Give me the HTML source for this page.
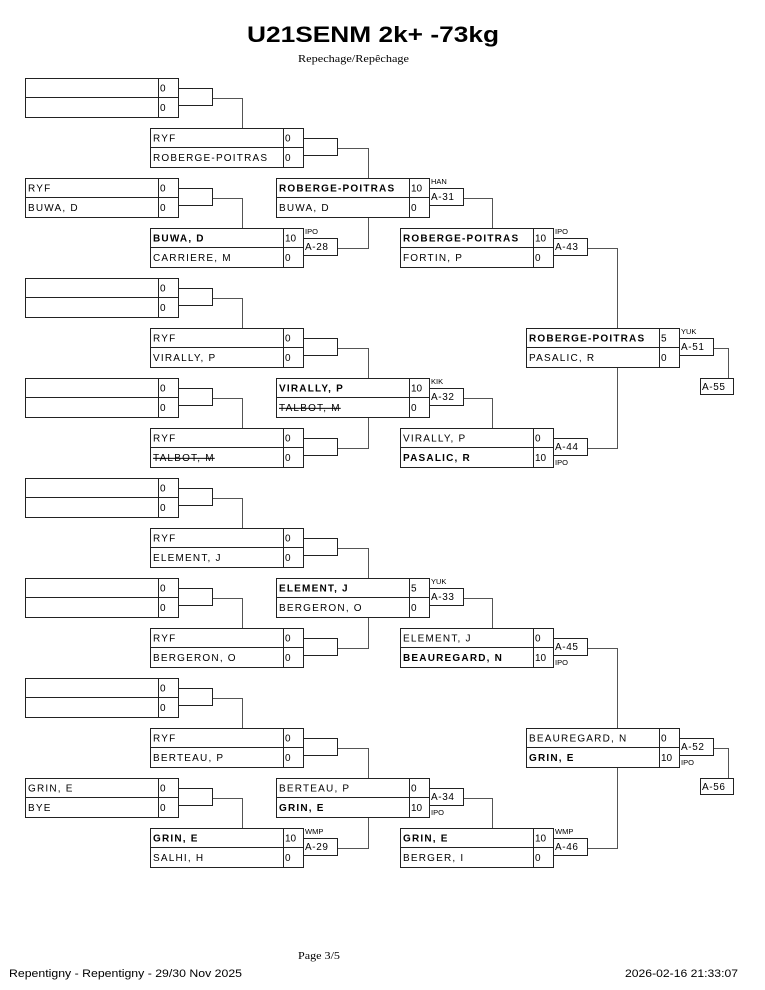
<!DOCTYPE html>
<html><head><meta charset="utf-8"><style>
html,body{margin:0;padding:0;background:#fff;}
svg{display:block;}
text{font-family:"Liberation Sans",Arial,sans-serif;fill:#000;}
.n{font-size:10px;letter-spacing:1.2px;}
.b{font-size:10px;letter-spacing:1.2px;font-weight:bold;}
.st{text-decoration:line-through;}
.sc{font-size:10px;}
.c{font-size:10px;letter-spacing:0.6px;}
.l{font-size:7.5px;}
.ln{fill:none;stroke:#555;stroke-width:1;}
</style></head><body>
<svg width="765" height="990" viewBox="0 0 765 990" xmlns="http://www.w3.org/2000/svg">
<defs>
<g id="bx">
<rect x="0.5" y="0.5" width="153" height="39" fill="none" stroke="#222"/>
<line x1="133.5" y1="0" x2="133.5" y2="40" stroke="#222"/>
<line x1="0" y1="19.5" x2="154" y2="19.5" stroke="#222"/>
<rect x="153.5" y="10.5" width="34" height="17" fill="none" stroke="#222"/>
</g>
</defs>

<text x="247" y="42" font-size="22" font-weight="bold" textLength="252" lengthAdjust="spacingAndGlyphs">U21SENM 2k+ -73kg</text>
<text x="298" y="62" style="font-family:'Liberation Serif',serif;font-size:11px" textLength="111" lengthAdjust="spacingAndGlyphs">Repechage/Repêchage</text>

<!-- connector lines -->
<path class="ln" d="M212 98.5H242.5V128M212 198.5H242.5V228M212 298.5H242.5V328M212 398.5H242.5V428M212 498.5H242.5V528M212 598.5H242.5V628M212 698.5H242.5V728M212 798.5H242.5V828"/>
<path class="ln" d="M337 148.5H368.5V178M337 248.5H368.5V217M337 348.5H368.5V378M337 448.5H368.5V417M337 548.5H368.5V578M337 648.5H368.5V617M337 748.5H368.5V778M337 848.5H368.5V817"/>
<path class="ln" d="M463 198.5H492.5V228M463 398.5H492.5V428M463 598.5H492.5V628M463 798.5H492.5V828"/>
<path class="ln" d="M587 248.5H617.5V328M587 448.5H617.5V367M587 648.5H617.5V728M587 848.5H617.5V767"/>
<path class="ln" d="M713 348.5H728.5V378M713 748.5H728.5V778"/>

<!-- column 1 -->
<use href="#bx" x="25" y="78"/><use href="#bx" x="25" y="178"/><use href="#bx" x="25" y="278"/><use href="#bx" x="25" y="378"/>
<use href="#bx" x="25" y="478"/><use href="#bx" x="25" y="578"/><use href="#bx" x="25" y="678"/><use href="#bx" x="25" y="778"/>
<text class="sc" x="160" y="91.5">0</text><text class="sc" x="160" y="111">0</text>
<text class="n" x="28" y="191.5">RYF</text><text class="sc" x="160" y="191.5">0</text>
<text class="n" x="28" y="211">BUWA, D</text><text class="sc" x="160" y="211">0</text>
<text class="sc" x="160" y="291.5">0</text><text class="sc" x="160" y="311">0</text>
<text class="sc" x="160" y="391.5">0</text><text class="sc" x="160" y="411">0</text>
<text class="sc" x="160" y="491.5">0</text><text class="sc" x="160" y="511">0</text>
<text class="sc" x="160" y="591.5">0</text><text class="sc" x="160" y="611">0</text>
<text class="sc" x="160" y="691.5">0</text><text class="sc" x="160" y="711">0</text>
<text class="n" x="28" y="791.5">GRIN, E</text><text class="sc" x="160" y="791.5">0</text>
<text class="n" x="28" y="811">BYE</text><text class="sc" x="160" y="811">0</text>

<!-- column 2 -->
<use href="#bx" x="150" y="128"/><use href="#bx" x="150" y="228"/><use href="#bx" x="150" y="328"/><use href="#bx" x="150" y="428"/>
<use href="#bx" x="150" y="528"/><use href="#bx" x="150" y="628"/><use href="#bx" x="150" y="728"/><use href="#bx" x="150" y="828"/>
<text class="n" x="153" y="141.5">RYF</text><text class="sc" x="285" y="141.5">0</text>
<text class="n" x="153" y="161">ROBERGE-POITRAS</text><text class="sc" x="285" y="161">0</text>
<text class="b" x="153" y="241.5">BUWA, D</text><text class="sc" x="285" y="241.5">10</text>
<text class="n" x="153" y="261">CARRIERE, M</text><text class="sc" x="285" y="261">0</text>
<text class="c" x="305" y="250">A-28</text><text class="l" x="305" y="234">IPO</text>
<text class="n" x="153" y="341.5">RYF</text><text class="sc" x="285" y="341.5">0</text>
<text class="n" x="153" y="361">VIRALLY, P</text><text class="sc" x="285" y="361">0</text>
<text class="n" x="153" y="441.5">RYF</text><text class="sc" x="285" y="441.5">0</text>
<text class="n st" x="153" y="461">TALBOT, M</text><text class="sc" x="285" y="461">0</text>
<text class="n" x="153" y="541.5">RYF</text><text class="sc" x="285" y="541.5">0</text>
<text class="n" x="153" y="561">ELEMENT, J</text><text class="sc" x="285" y="561">0</text>
<text class="n" x="153" y="641.5">RYF</text><text class="sc" x="285" y="641.5">0</text>
<text class="n" x="153" y="661">BERGERON, O</text><text class="sc" x="285" y="661">0</text>
<text class="n" x="153" y="741.5">RYF</text><text class="sc" x="285" y="741.5">0</text>
<text class="n" x="153" y="761">BERTEAU, P</text><text class="sc" x="285" y="761">0</text>
<text class="b" x="153" y="841.5">GRIN, E</text><text class="sc" x="285" y="841.5">10</text>
<text class="n" x="153" y="861">SALHI, H</text><text class="sc" x="285" y="861">0</text>
<text class="c" x="305" y="850">A-29</text><text class="l" x="305" y="834">WMP</text>

<!-- column 3 -->
<use href="#bx" x="276" y="178"/><use href="#bx" x="276" y="378"/><use href="#bx" x="276" y="578"/><use href="#bx" x="276" y="778"/>
<text class="b" x="279" y="191.5">ROBERGE-POITRAS</text><text class="sc" x="411" y="191.5">10</text>
<text class="n" x="279" y="211">BUWA, D</text><text class="sc" x="411" y="211">0</text>
<text class="c" x="431" y="200">A-31</text><text class="l" x="431" y="184">HAN</text>
<text class="b" x="279" y="391.5">VIRALLY, P</text><text class="sc" x="411" y="391.5">10</text>
<text class="n st" x="279" y="411">TALBOT, M</text><text class="sc" x="411" y="411">0</text>
<text class="c" x="431" y="400">A-32</text><text class="l" x="431" y="384">KIK</text>
<text class="b" x="279" y="591.5">ELEMENT, J</text><text class="sc" x="411" y="591.5">5</text>
<text class="n" x="279" y="611">BERGERON, O</text><text class="sc" x="411" y="611">0</text>
<text class="c" x="431" y="600">A-33</text><text class="l" x="431" y="584">YUK</text>
<text class="n" x="279" y="791.5">BERTEAU, P</text><text class="sc" x="411" y="791.5">0</text>
<text class="b" x="279" y="811">GRIN, E</text><text class="sc" x="411" y="811">10</text>
<text class="c" x="431" y="800">A-34</text><text class="l" x="431" y="815">IPO</text>

<!-- column 4 -->
<use href="#bx" x="400" y="228"/><use href="#bx" x="400" y="428"/><use href="#bx" x="400" y="628"/><use href="#bx" x="400" y="828"/>
<text class="b" x="403" y="241.5">ROBERGE-POITRAS</text><text class="sc" x="535" y="241.5">10</text>
<text class="n" x="403" y="261">FORTIN, P</text><text class="sc" x="535" y="261">0</text>
<text class="c" x="555" y="250">A-43</text><text class="l" x="555" y="234">IPO</text>
<text class="n" x="403" y="441.5">VIRALLY, P</text><text class="sc" x="535" y="441.5">0</text>
<text class="b" x="403" y="461">PASALIC, R</text><text class="sc" x="535" y="461">10</text>
<text class="c" x="555" y="450">A-44</text><text class="l" x="555" y="465">IPO</text>
<text class="n" x="403" y="641.5">ELEMENT, J</text><text class="sc" x="535" y="641.5">0</text>
<text class="b" x="403" y="661">BEAUREGARD, N</text><text class="sc" x="535" y="661">10</text>
<text class="c" x="555" y="650">A-45</text><text class="l" x="555" y="665">IPO</text>
<text class="b" x="403" y="841.5">GRIN, E</text><text class="sc" x="535" y="841.5">10</text>
<text class="n" x="403" y="861">BERGER, I</text><text class="sc" x="535" y="861">0</text>
<text class="c" x="555" y="850">A-46</text><text class="l" x="555" y="834">WMP</text>

<!-- column 5 -->
<use href="#bx" x="526" y="328"/><use href="#bx" x="526" y="728"/>
<text class="b" x="529" y="341.5">ROBERGE-POITRAS</text><text class="sc" x="661" y="341.5">5</text>
<text class="n" x="529" y="361">PASALIC, R</text><text class="sc" x="661" y="361">0</text>
<text class="c" x="681" y="350">A-51</text><text class="l" x="681" y="334">YUK</text>
<text class="n" x="529" y="741.5">BEAUREGARD, N</text><text class="sc" x="661" y="741.5">0</text>
<text class="b" x="529" y="761">GRIN, E</text><text class="sc" x="661" y="761">10</text>
<text class="c" x="681" y="750">A-52</text><text class="l" x="681" y="765">IPO</text>

<!-- finals -->
<rect x="700.5" y="378.5" width="33" height="16" fill="none" stroke="#222"/>
<text class="c" x="702" y="390">A-55</text>
<rect x="700.5" y="778.5" width="33" height="16" fill="none" stroke="#222"/>
<text class="c" x="702" y="790">A-56</text>

<!-- footer -->
<text x="298" y="959" style="font-family:'Liberation Serif',serif;font-size:11px" textLength="42" lengthAdjust="spacingAndGlyphs">Page 3/5</text>
<text x="9" y="977" font-size="11" textLength="233" lengthAdjust="spacingAndGlyphs">Repentigny - Repentigny - 29/30 Nov  2025</text>
<text x="625" y="977" font-size="11" textLength="113" lengthAdjust="spacingAndGlyphs">2026-02-16 21:33:07</text>
</svg>
</body></html>
